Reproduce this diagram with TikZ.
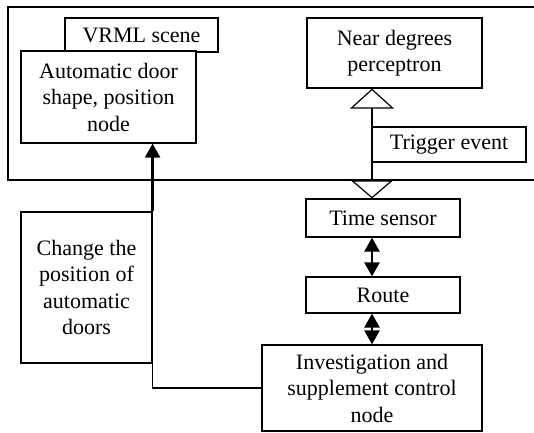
\documentclass[tikz,border=0pt]{standalone}
\usepackage{fontspec}
\setmainfont{Liberation Serif}
\usetikzlibrary{arrows.meta,calc}
\begin{document}
\begin{tikzpicture}[x=1pt,y=-1pt,
  box/.style={draw,line width=1.2pt,fill=white,align=center,inner sep=1pt,
    font=\fontsize{22}{26.5}\selectfont},
  link/.style={line width=1.2pt},
  thicklink/.style={line width=2.4pt},
  solidtip/.style={-{Triangle[width=15pt,length=14pt]}},
  dbl/.style={{Triangle[width=15pt,length=14pt]}-{Triangle[width=15pt,length=14pt]}},
]
\useasboundingbox (0,0) rectangle (534,432);
% outer scene frame (open on the right)
\draw[line width=1.3pt] (535,7) -- (8,7) -- (8,180) -- (535,180);

\node[box,minimum width=153pt,minimum height=34pt] (vrml) at (141.5,35) {VRML scene};
\node[box,minimum width=175pt,minimum height=92pt] (door) at (108.5,97)
  {Automatic door\\shape, position\\node};
\node[box,minimum width=175pt,minimum height=70pt] (near) at (394.5,53)
  {Near degrees\\perceptron};
\node[box,minimum width=154pt,minimum height=35pt] (trig) at (449,144.5) {Trigger event};
\node[box,minimum width=154pt,minimum height=38pt] (time) at (383,218) {Time sensor};
\node[box,minimum width=154pt,minimum height=36pt] (route) at (383,295) {Route};
\node[box,minimum width=220pt,minimum height=86pt] (inv) at (372,388)
  {Investigation and\\supplement control\\node};
\node[box,minimum width=131pt,minimum height=151pt] (chg) at (86.5,287.5)
  {Change the\\position of\\automatic\\doors};

% trigger event path with hollow triangles
\draw[link,{Triangle[open,width=42pt,length=18pt,line width=1.2pt]}-{Triangle[open,width=44pt,length=20pt,line width=1.2pt]}]
  (inv.north |- time.north) -- (inv.north |- near.south);

% double arrows
\draw[thicklink,dbl] (inv.north |- time.south) -- (inv.north |- route.north);
\draw[thicklink,dbl] (inv.north |- route.south) -- (inv.north);

% control back to the door node
\draw[link] (inv.west) -| (chg.east |- door.south);
\draw[thicklink,solidtip] (chg.north east) -- (chg.east |- door.south);
\end{tikzpicture}
\end{document}
